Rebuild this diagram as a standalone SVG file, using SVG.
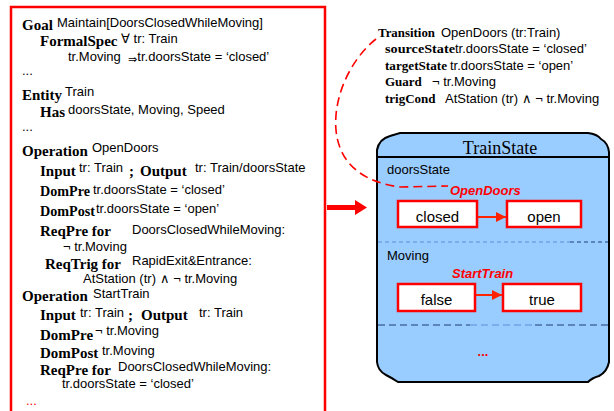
<svg xmlns="http://www.w3.org/2000/svg" width="614" height="411" viewBox="0 0 614 411">
<defs>
<style>
.s{font-family:"Liberation Sans",Arial,sans-serif;font-size:13px;fill:#000}
.b{font-family:"Liberation Serif","Times New Roman",serif;font-weight:bold;font-size:15px;fill:#000}
.bt{font-family:"Liberation Serif","Times New Roman",serif;font-weight:bold;font-size:13px;fill:#000}
.st{fill:#fff;stroke:#ff0000;stroke-width:2.5}
.stt{font-family:"Liberation Sans",Arial,sans-serif;font-size:15px;fill:#000;text-anchor:middle}
.ev{font-family:"Liberation Sans",Arial,sans-serif;font-size:13px;font-weight:bold;font-style:italic;fill:#ff0000}
.red{stroke:#ff0000;fill:none}
</style>
<marker id="ah" viewBox="0 0 10 10" refX="10" refY="5" markerWidth="5" markerHeight="5" orient="auto">
<path d="M0,0 L10,5 L0,10 Z" fill="#ff2200"/>
</marker>
</defs>
<rect width="614" height="411" fill="#fff"/>

<g id="spec">
<path d="M11,411 L11,7 L325,7 L325,411" fill="none" stroke="#ff0000" stroke-width="2.5"/>
<text class="b" x="22" y="30">Goal</text><text class="s" x="57" y="27">Maintain[DoorsClosedWhileMoving]</text>
<text class="b" x="40" y="46">FormalSpec</text><text class="s" x="121" y="43">∀ tr: Train</text>
<text class="s" x="68" y="61">tr.Moving <tspan font-size="11" dx="4" dy="2">⇒</tspan><tspan dy="-2">tr.doorsState = ‘closed’</tspan></text>
<text class="s" x="22" y="75">...</text>
<text class="b" x="22" y="100">Entity</text><text class="s" x="65" y="96">Train</text>
<text class="b" x="40" y="117">Has</text><text class="s" x="68" y="114">doorsState, Moving, Speed</text>
<text class="s" x="22" y="131">...</text>

<text class="b" x="22" y="156">Operation</text><text class="s" x="92" y="152">OpenDoors</text>
<text class="b" x="40" y="176">Input</text><text class="s" x="79" y="172">tr: Train</text><text class="b" x="129" y="176">;</text>
<text class="b" x="140" y="176">Output</text><text class="s" x="195" y="172">tr: Train/doorsState</text>
<text class="b" x="40" y="196" textLength="50" lengthAdjust="spacingAndGlyphs">DomPre</text><text class="s" x="93" y="194">tr.doorsState = ‘closed’</text>
<text class="b" x="40" y="216" textLength="55" lengthAdjust="spacingAndGlyphs">DomPost</text><text class="s" x="96" y="213">tr.doorsState = ‘open’</text>
<text class="b" x="40" y="236">ReqPre for</text><text class="s" x="132" y="234">DoorsClosedWhileMoving:</text>
<text class="s" x="63" y="251">¬ tr.Moving</text>
<text class="b" x="45" y="269">ReqTrig for</text><text class="s" x="132" y="265">RapidExit&amp;Entrance:</text>
<text class="s" x="83" y="283">AtStation (tr) ∧ ¬ tr.Moving</text>

<text class="b" x="22" y="301">Operation</text><text class="s" x="93" y="298">StartTrain</text>
<text class="b" x="40" y="320">Input</text><text class="s" x="80" y="317">tr: Train</text><text class="b" x="128" y="320">;</text>
<text class="b" x="141" y="320">Output</text><text class="s" x="199" y="317">tr: Train</text>
<text class="b" x="40" y="340">DomPre</text><text class="s" x="95" y="335">¬ tr.Moving</text>
<text class="b" x="40" y="358">DomPost</text><text class="s" x="102" y="355">tr.Moving</text>
<text class="b" x="40" y="375">ReqPre for</text><text class="s" x="118" y="371">DoorsClosedWhileMoving:</text>
<text class="s" x="62" y="388">tr.doorsState = ‘closed’</text>
<text class="s" x="26" y="405" style="fill:#ff0000">...</text>
</g>

<g id="transition">
<text class="bt" x="378" y="37" textLength="57" lengthAdjust="spacingAndGlyphs">Transition</text><text class="s" x="441" y="37">OpenDoors (tr:Train)</text>
<text class="bt" x="385" y="53" textLength="70" lengthAdjust="spacingAndGlyphs">sourceState</text><text class="s" x="455" y="53">tr.doorsState = ‘closed’</text>
<text class="bt" x="385" y="70" textLength="62" lengthAdjust="spacingAndGlyphs">targetState</text><text class="s" x="450" y="70">tr.doorsState = ‘open’</text>
<text class="bt" x="385" y="86">Guard</text><text class="s" x="432" y="86">¬ tr.Moving</text>
<text class="bt" x="385" y="103">trigCond</text><text class="s" x="445" y="103">AtStation (tr) ∧ ¬ tr.Moving</text>
</g>

<g id="trainstate">
<path d="M377,362 L377,150 Q379,139 390,136 L400,133 L588,133 Q597,134 601,139 Q608,143 609,152 L609,362 Q607,372 599,376 Q592,378 588,382 L398,382 Q392,378 386,375 Q378,371 377,362 Z" fill="#99ccff" stroke="#000" stroke-width="2"/>
<line x1="377" y1="157" x2="609" y2="157" stroke="#000" stroke-width="2"/>
<text x="500" y="154" font-family="'Liberation Serif','Times New Roman',serif" font-size="18" text-anchor="middle">TrainState</text>
<text class="s" x="387" y="174">doorsState</text>
<line x1="378" y1="242" x2="570" y2="242" stroke="#5a8fd6" stroke-width="1" stroke-dasharray="4 3"/>
<line x1="570" y1="242" x2="608" y2="242" stroke="#1f3f77" stroke-width="1" stroke-dasharray="4 3"/>
<text class="s" x="387" y="260">Moving</text>
<line x1="378" y1="325" x2="470" y2="325" stroke="#1f3f77" stroke-width="1" stroke-dasharray="7 4"/>
<line x1="470" y1="325" x2="535" y2="325" stroke="#5a8fd6" stroke-width="1" stroke-dasharray="7 4"/>
<line x1="535" y1="325" x2="608" y2="325" stroke="#1f3f77" stroke-width="1" stroke-dasharray="7 4"/>
<text x="483" y="356" font-family="'Liberation Sans',Arial,sans-serif" font-size="13" font-weight="bold" fill="#ff0000" text-anchor="middle">...</text>
</g>

<g id="closed"><rect class="st" x="398" y="201" width="79" height="26"/><text class="stt" x="437.5" y="222">closed</text></g>
<g id="open"><rect class="st" x="507" y="201" width="74" height="26"/><text class="stt" x="544" y="222">open</text></g>
<g id="false"><rect class="st" x="398" y="284" width="77" height="27"/><text class="stt" x="436.5" y="305">false</text></g>
<g id="true"><rect class="st" x="503" y="284" width="78" height="27"/><text class="stt" x="542" y="305">true</text></g>

<g id="connectors">
<line x1="478" y1="217" x2="506" y2="217" stroke="#ff2200" stroke-width="2" marker-end="url(#ah)"/>
<text class="ev" x="450" y="195">OpenDoors</text>
<line x1="476" y1="295" x2="502" y2="295" stroke="#ff2200" stroke-width="2" marker-end="url(#ah)"/>
<text class="ev" x="452" y="278">StartTrain</text>
<path class="red" d="M376,39 C352,58 333,95 336,130 C339,163 362,182 400,187 L448,186" stroke-width="1.6" stroke-dasharray="9 5"/>
<rect x="327" y="205" width="29" height="5" fill="#ff0000"/>
<path d="M355,200 L367,207.5 L355,215 Z" fill="#ff0000"/>
</g>
</svg>
